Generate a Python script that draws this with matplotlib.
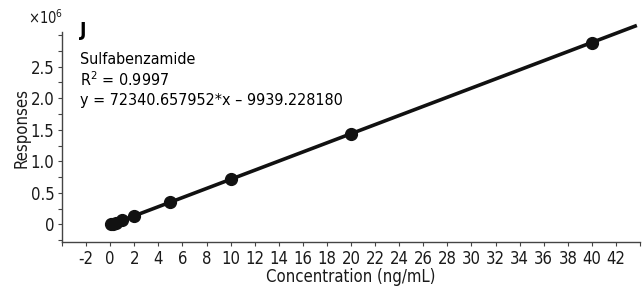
import numpy as np
import matplotlib.pyplot as plt
from matplotlib.ticker import MultipleLocator, FuncFormatter

plt.rcParams['font.family'] = ['DejaVu Sans']
plt.rcParams['font.stretch'] = 'condensed'
plt.rcParams['mathtext.fontset'] = 'custom'
plt.rcParams['mathtext.rm'] = 'DejaVu Sans:stretch=condensed'

# calibration levels (ng/mL) and responses
conc = [0.1, 0.2, 0.5, 1, 2, 5, 10, 20, 40]
resp = [0.0, 0.005e6, 0.026e6, 0.062e6, 0.135e6, 0.352e6, 0.714e6, 1.437e6, 2.883e6]
slope = 72340.657952
intercept = -9939.228180

fig = plt.figure(figsize=(6.42, 2.88), dpi=100)
ax = fig.add_axes([62/642, 46/288, 578/642, 210/288])

xl = np.array([0, 43.6])
ax.plot(xl, slope*xl + intercept, color='#111111', lw=2.6, zorder=2, clip_on=False)
ax.plot(conc, resp, 'o', color='#111111', ms=8.5, zorder=3)

ax.set_xlim(-4, 44)
ax.set_ylim(-0.28e6, 3.05e6)
ax.xaxis.set_major_locator(MultipleLocator(2))
ax.xaxis.set_major_formatter(FuncFormatter(lambda v, p: '%d' % round(v) if -2 <= v <= 42 else ''))
ax.yaxis.set_major_locator(MultipleLocator(0.5e6))
ax.yaxis.set_minor_locator(MultipleLocator(0.25e6))
ax.yaxis.set_major_formatter(FuncFormatter(lambda v, p: '0' if abs(v) < 1 else ('%.1f' % (v/1e6) if v <= 2.6e6 else '')))

for s in ['top', 'right']:
    ax.spines[s].set_visible(False)
for s in ['left', 'bottom']:
    ax.spines[s].set_color('#444444')
    ax.spines[s].set_linewidth(1.0)
ax.tick_params(axis='both', which='both', direction='out', length=3, width=0.8,
               color='#444444', labelsize=12, labelcolor='#1a1a1a', pad=2.5)

ax.set_xlabel('Concentration (ng/mL)', fontsize=12, color='#1a1a1a', labelpad=0)
ax.set_ylabel('Responses', fontsize=12, color='#1a1a1a')
ax.yaxis.set_label_coords(31/642, 1 - 128/288, transform=fig.transFigure)
fig.text(28/642, 1 - 18/288, '×10$^6$', fontsize=10.5, color='#1a1a1a', va='center')

ax.text(80/642, 1 - 31/288, 'J', transform=fig.transFigure, fontsize=14, fontweight='bold', va='center')
ax.text(80/642, 1 - 60/288, 'Sulfabenzamide', transform=fig.transFigure, fontsize=11.5, va='center')
ax.text(80/642, 1 - 80/288, 'R$^2$ = 0.9997', transform=fig.transFigure, fontsize=11.5, va='center')
ax.text(80/642, 1 - 100/288, 'y = 72340.657952*x \u2013 9939.228180', transform=fig.transFigure,
        fontsize=11.5, va='center')

fig.savefig('out.png', dpi=100)
